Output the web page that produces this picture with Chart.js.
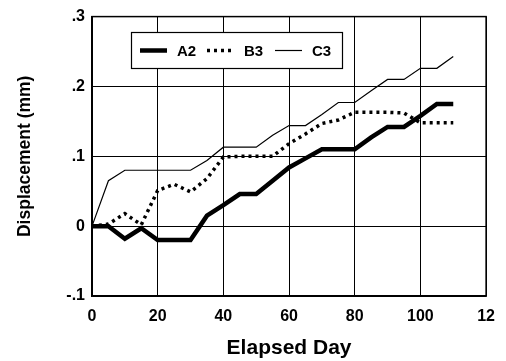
<!DOCTYPE html>
<html>
<head>
<meta charset="utf-8">
<script src="https://cdn.jsdelivr.net/npm/chart.js@4"></script>
<style>
  html, body { margin: 0; padding: 0; background: #fff; }
  #wrap { width: 506px; height: 361px; }
</style>
</head>
<body>
<div id="wrap"><canvas id="chart" width="506" height="361"></canvas></div>
<script>
// elapsed days
var days = [0, 5, 10, 15, 20, 25, 30, 35, 40, 45, 50, 55, 60, 65, 70, 75, 80, 85, 90, 95, 100, 105, 110];

// displacement (mm)
var a2 = [0, 0, -0.018, -0.003, -0.02, -0.02, -0.02, 0.015, 0.03, 0.046, 0.046, 0.065, 0.084, 0.097, 0.11, 0.11, 0.11, 0.127, 0.142, 0.142, 0.158, 0.175, 0.175];
var b3 = [0, 0.003, 0.018, 0.002, 0.051, 0.06, 0.049, 0.068, 0.099, 0.1, 0.1, 0.1, 0.118, 0.132, 0.147, 0.152, 0.163, 0.163, 0.163, 0.162, 0.148, 0.148, 0.148];
var c3 = [0, 0.065, 0.08, 0.08, 0.08, 0.08, 0.08, 0.094, 0.113, 0.113, 0.113, 0.13, 0.144, 0.144, 0.16, 0.177, 0.177, 0.194, 0.21, 0.21, 0.226, 0.226, 0.243];

var xTickLabels = ['0', '20', '40', '60', '80', '100', '12'];
var yTickLabels = ['-.1', '0', '.1', '.2', '.3'];

var FONT = "'Liberation Sans', Arial, sans-serif";

function toPts(ys) {
    return ys.map(function (y, i) { return { x: days[i], y: y }; });
}

// legend drawn inside the plot, with a boxed border
var boxLegend = {
    id: 'boxLegend',
    afterDraw: function (chart) {
        var ctx = chart.ctx;
        var left = 131, top = 32, w = 211, h = 36;
        ctx.save();
        ctx.fillStyle = '#fff';
        ctx.fillRect(left, top, w, h);
        ctx.strokeStyle = '#000';
        ctx.lineWidth = 1.2;
        ctx.strokeRect(left + 0.5, top + 0.5, w, h);
        var cy = top + h / 2 + 0.5;
        var starts = [140, 207, 275];
        ctx.font = 'bold 15px ' + FONT;
        ctx.textBaseline = 'middle';
        chart.data.datasets.forEach(function (ds, i) {
            var sx = starts[i];
            ctx.beginPath();
            ctx.strokeStyle = ds.borderColor;
            ctx.lineWidth = ds.borderWidth;
            ctx.setLineDash(ds.borderDash || []);
            ctx.moveTo(sx, cy);
            ctx.lineTo(sx + 27, cy);
            ctx.stroke();
            ctx.setLineDash([]);
            ctx.fillStyle = '#000';
            ctx.fillText(ds.label, sx + 37, cy + 1);
        });
        ctx.restore();
    }
};

new Chart(document.getElementById('chart'), {
    type: 'line',
    data: {
        datasets: [
            { label: 'A2', data: toPts(a2), borderColor: '#000', borderWidth: 4.5, pointRadius: 0, tension: 0 },
            { label: 'B3', data: toPts(b3), borderColor: '#000', borderWidth: 3.5, borderDash: [3, 4], pointRadius: 0, tension: 0 },
            { label: 'C3', data: toPts(c3), borderColor: '#000', borderWidth: 1.2, pointRadius: 0, tension: 0 }
        ]
    },
    options: {
        responsive: false,
        animation: false,
        layout: { padding: { top: 15, right: 16, bottom: 0, left: 0 } },
        plugins: {
            legend: { display: false },
            tooltip: { enabled: false }
        },
        scales: {
            x: {
                type: 'linear',
                min: 0, max: 120,
                border: { color: '#000', width: 1.5 },
                grid: { color: '#000', lineWidth: 1, drawTicks: false },
                ticks: {
                    stepSize: 20,
                    padding: 11,
                    color: '#000',
                    font: { family: FONT, size: 16, weight: 'bold' },
                    callback: function (v) { return xTickLabels[v / 20]; }
                },
                title: {
                    display: true,
                    text: 'Elapsed Day',
                    color: '#000',
                    padding: { top: 10, bottom: 0 },
                    font: { family: FONT, size: 21, weight: 'bold' }
                },
                afterFit: function (s) { s.height = 65; }
            },
            y: {
                min: -0.1, max: 0.3,
                border: { color: '#000', width: 1.5 },
                grid: { color: '#000', lineWidth: 1, drawTicks: false },
                ticks: {
                    stepSize: 0.1,
                    padding: 7,
                    color: '#000',
                    font: { family: FONT, size: 16, weight: 'bold' },
                    callback: function (v) { return yTickLabels[Math.round((v + 0.1) * 10)]; }
                },
                title: {
                    display: true,
                    text: 'Displacement (mm)',
                    color: '#000',
                    padding: { top: 15, bottom: 0 },
                    font: { family: FONT, size: 17.5, weight: 'bold' }
                },
                afterFit: function (s) { s.width = 92; }
            }
        }
    },
    plugins: [boxLegend, {
        id: 'frame',
        afterDraw: function (chart) {
            var a = chart.chartArea, ctx = chart.ctx;
            ctx.save();
            ctx.strokeStyle = '#000';
            ctx.lineWidth = 1.5;
            ctx.strokeRect(a.left, a.top, a.right - a.left, a.bottom - a.top);
            ctx.restore();
        }
    }]
});
</script>
</body>
</html>
